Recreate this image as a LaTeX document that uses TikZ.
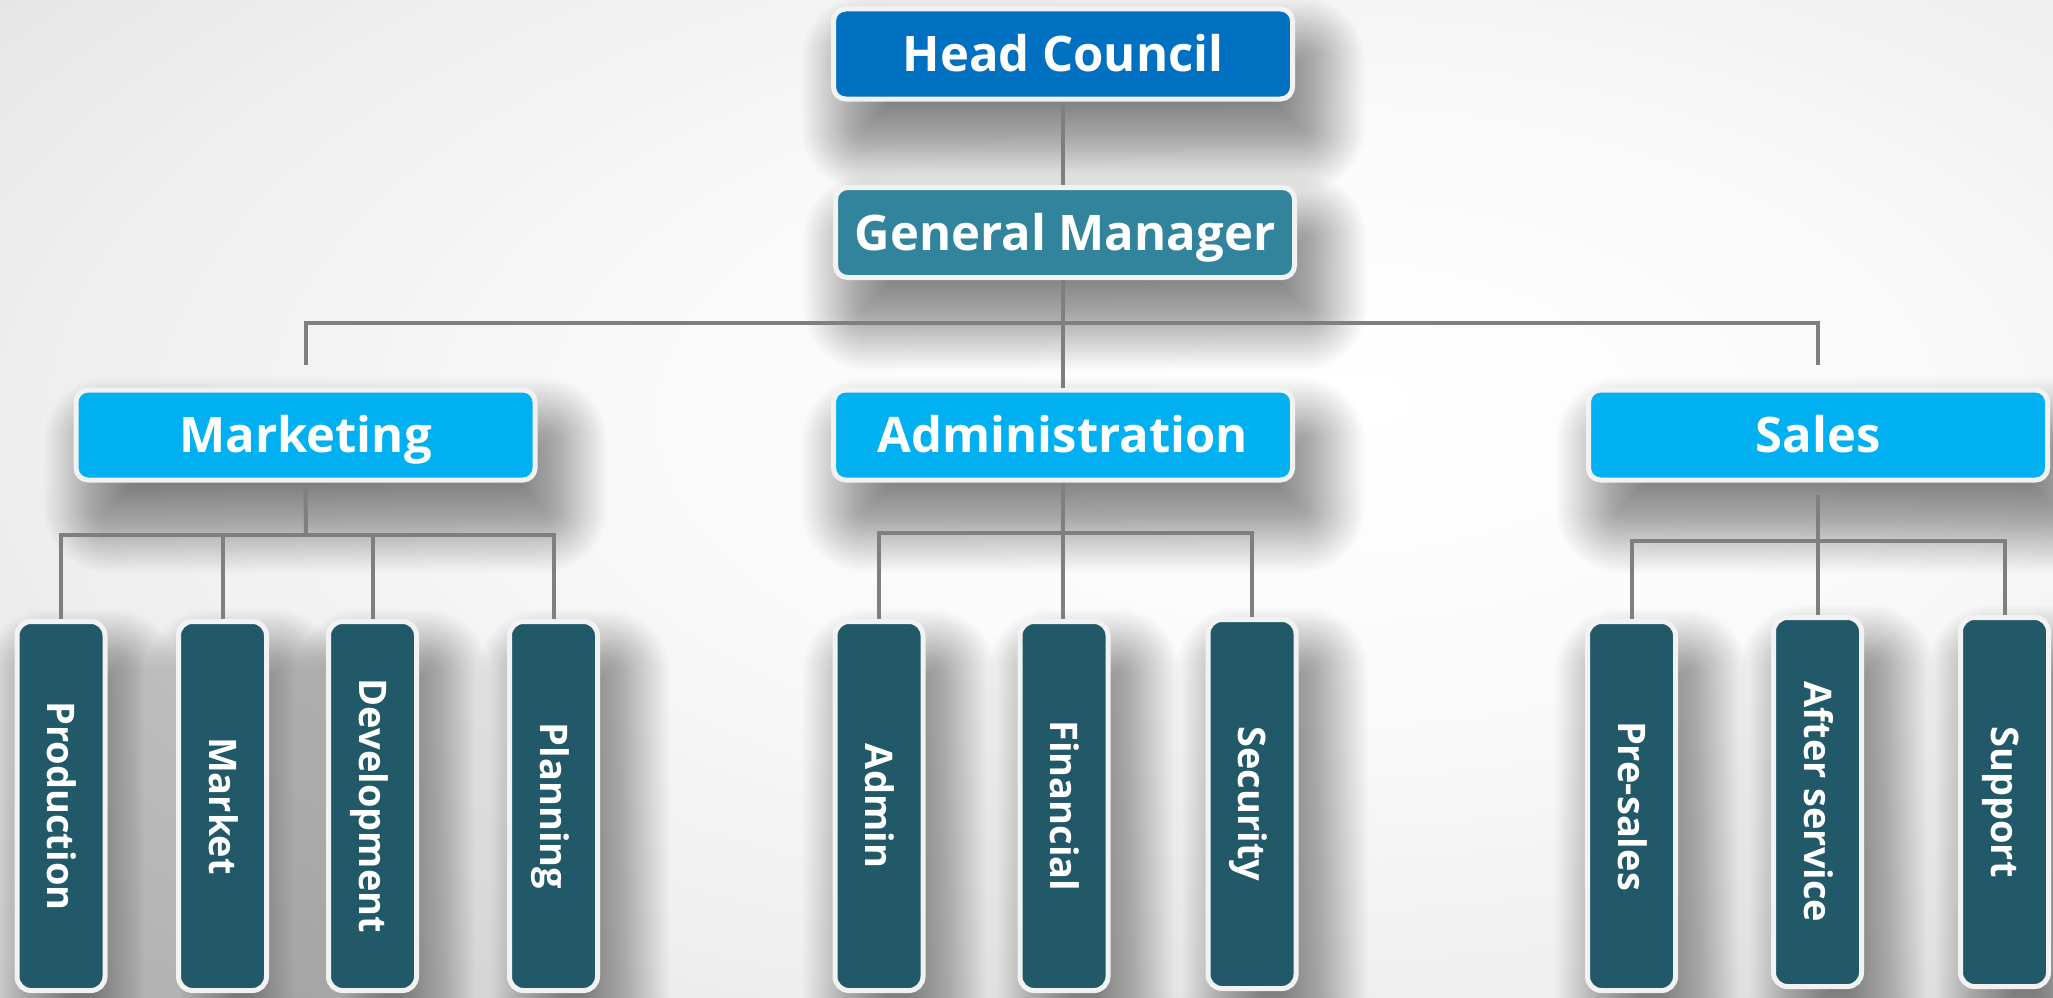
\documentclass[tikz,border=0pt]{standalone}
\usepackage{fontspec}
\usepackage{graphicx}
\setmainfont{Open Sans}
\usetikzlibrary{calc}
\definecolor{headc}{HTML}{0070C0}
\definecolor{gmc}{HTML}{31849B}
\definecolor{deptc}{HTML}{00B0F0}
\definecolor{unitc}{HTML}{215968}
\definecolor{edgec}{HTML}{F2F2F2}
\definecolor{linec}{HTML}{7F7F7F}
\definecolor{bga}{HTML}{FAFAFA}
\definecolor{bgb}{HTML}{EEEEEE}
\definecolor{bgc}{HTML}{DDDDDD}
\definecolor{bgd}{HTML}{D2D2D2}
\definecolor{bge}{HTML}{CACACA}
\pgfdeclareradialshading{bgshade}{\pgfpoint{8bp}{5bp}}{color(0bp)=(white); color(15bp)=(bga); color(30bp)=(bgb); color(45bp)=(bgc); color(60bp)=(bgd); color(90bp)=(bge)}
\pgfdeclarelayer{bgl}
\pgfdeclarelayer{shl}
\pgfsetlayers{bgl,shl,main}
\newcommand{\mytxt}[1]{\rotatebox{-90}{\raisebox{0pt}[27pt][0pt]{#1}}}
\begin{document}
\begin{tikzpicture}[x=1pt,y=-1pt,
  box/.style={rounded corners=12pt, draw=edgec, line width=5pt, text=white,
    font=\bfseries\fontsize{49}{56}\selectfont, inner sep=0pt},
  topbox/.style={box, minimum width=459pt, minimum height=90pt, text height=35pt, text depth=0pt},
  unitbox/.style={box, rounded corners=14pt, fill=unitc, minimum width=88pt, minimum height=369pt,
    font=\bfseries\fontsize{38}{44}\selectfont},
  conn/.style={draw=linec, line width=4pt},
  shadowlayer/.style={black, opacity=0.013}]
\useasboundingbox (0,0) rectangle (2053,998);
\begin{pgfonlayer}{bgl}
\shade[shading=bgshade] (0,0) rectangle (2053,998);
\end{pgfonlayer}

\node[topbox, fill=headc] (head) at (1063,54) {Head Council};
\node[topbox, fill=gmc] (gm) at (1065,232.5) {General Manager};
\node[topbox, fill=deptc] (mkt) at (305.5,435) {Marketing};
\node[topbox, fill=deptc] (adm) at (1063,435) {Administration};
\node[topbox, fill=deptc] (sls) at (1818,435) {Sales};

\node[unitbox] (prod) at (61,806) {\mytxt{Production}};
\node[unitbox] (mark) at (222.5,806) {\mytxt{Market}};
\node[unitbox] (dev) at (372.5,806) {\mytxt{Development}};
\node[unitbox] (plan) at (553.5,806) {\mytxt{Planning}};
\node[unitbox] (admin) at (879,806) {\mytxt{Admin}};
\node[unitbox] (fin) at (1064,806) {\mytxt{Financial}};
\node[unitbox] (sec) at (1252,804) {\mytxt{Security}};
\node[unitbox] (pre) at (1631.5,806) {\mytxt{Pre-sales}};
\node[unitbox] (aft) at (1817.5,802) {\mytxt{After service}};
\node[unitbox] (sup) at (2004.5,802) {\mytxt{Support}};

\begin{pgfonlayer}{shl}
\foreach \n in {head,gm,mkt,adm,sls,prod,mark,dev,plan,admin,fin,sec,pre,aft,sup}{
  \foreach \e in {50,48,...,-46}{
    \pgfmathsetmacro\rr{max(2,14+\e)}
    \pgfmathsetmacro\xa{20-\e}
    \pgfmathsetmacro\ya{40-\e}
    \pgfmathsetmacro\xb{20+\e}
    \pgfmathsetmacro\yb{40+\e}
    \fill[shadowlayer, rounded corners=\rr pt] ($(\n.north west)+(\xa,\ya)$) rectangle ($(\n.south east)+(\xb,\yb)$);
  }
}
\end{pgfonlayer}

\coordinate (bus) at (1063,323);
\coordinate (mb) at (306,535);
\coordinate (ab) at (1063,533);
\coordinate (sb) at (1818,541);

\draw[conn] (head.south) -- (head.south |- gm.north);
\draw[conn] (gm.south -| adm.north) -- (adm.north);
\draw[conn] ([yshift=23pt]mkt.north) |- (bus) -| ([yshift=23pt]sls.north);

\draw[conn] ([yshift=-6pt]mkt.south) -- (mb);
\draw[conn] (prod.north) |- (mb) -| (plan.north);
\draw[conn] (mark.north) -- (mark.north |- mb);
\draw[conn] (dev.north) -- (dev.north |- mb);

\draw[conn] (adm.south) -- (adm.south |- fin.north);
\draw[conn] (admin.north) |- (ab) -| (sec.north);

\draw[conn] ([yshift=-12pt]sls.south) -- (sls.south |- aft.north);
\draw[conn] (pre.north) |- (sb) -| (sup.north);
\end{tikzpicture}
\end{document}
